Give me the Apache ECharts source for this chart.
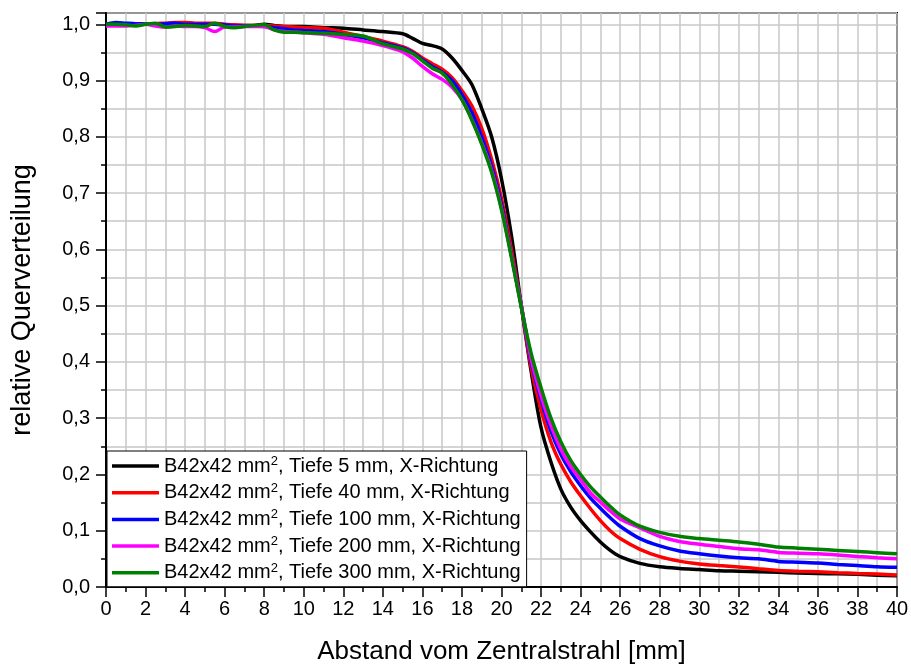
<!DOCTYPE html>
<html>
<head>
<meta charset="utf-8">
<script src="https://cdn.jsdelivr.net/npm/echarts@6/dist/echarts.min.js"></script>
<style>
html,body{margin:0;padding:0;background:#fff;}
#chart{width:911px;height:666px;}
</style>
</head>
<body>
<div id="chart"></div>
<script>
// Abstand vom Zentralstrahl [mm]
const xVals = [0,0.5,1,1.5,2,2.5,3,3.5,4,4.5,5,5.5,6,6.5,7,7.5,8,8.5,9,9.5,10,
  11,12,13,14,15,15.5,16,16.5,17,17.5,18,18.5,19,19.5,20,20.5,21,21.5,22,22.5,23,23.5,24,24.5,25,25.5,26,
  27,28,29,30,31,32,33,34,35,36,37,38,39,40];

const depths = [5, 40, 100, 200, 300];
const colors = ['#000000', '#ff0000', '#0000ff', '#ff00ff', '#008000'];

const yTiefe5 = [1.0,1.001,1.0,1.0,1.001,1.001,1.0,1.0,1.0,1.0,1.0,1.0,0.999,0.998,0.998,0.998,1.0,0.998,0.996,0.996,0.996,
  0.994,0.993,0.990,0.987,0.983,0.975,0.966,0.962,0.956,0.940,0.918,0.893,0.850,0.800,0.725,0.625,0.500,0.383,0.283,0.222,0.174,0.142,0.118,0.098,0.080,0.065,0.054,
  0.042,0.036,0.033,0.031,0.029,0.028,0.027,0.026,0.025,0.024,0.0235,0.0225,0.021,0.020];
const yTiefe40 = [1.0,1.0,1.0,1.0,1.001,1.001,1.002,1.003,1.003,1.002,1.002,1.002,1.0,0.999,0.998,0.998,0.998,0.997,0.996,0.995,0.994,
  0.993,0.986,0.978,0.970,0.960,0.952,0.940,0.930,0.920,0.905,0.882,0.855,0.815,0.760,0.690,0.600,0.500,0.390,0.315,0.258,0.218,0.187,0.162,0.139,0.118,0.100,0.086,
  0.067,0.054,0.046,0.041,0.038,0.0355,0.0325,0.0295,0.028,0.027,0.0255,0.0242,0.023,0.0213];
const yTiefe100 = [1.0,1.003,1.002,1.001,1.001,1.0,1.001,1.002,1.0,1.0,1.0,1.0,0.999,0.997,0.997,0.997,0.996,0.994,0.992,0.990,0.989,
  0.987,0.982,0.976,0.967,0.958,0.950,0.937,0.925,0.915,0.900,0.875,0.843,0.800,0.748,0.680,0.590,0.500,0.400,0.333,0.277,0.236,0.205,0.180,0.158,0.140,0.123,0.108,
  0.086,0.073,0.064,0.059,0.055,0.052,0.050,0.0455,0.044,0.0426,0.040,0.038,0.036,0.035];
const yTiefe200 = [0.997,0.997,0.997,0.998,1.0,0.997,0.995,0.997,0.996,0.996,0.994,0.987,0.995,0.995,0.996,0.996,0.996,0.990,0.987,0.986,0.985,
  0.982,0.976,0.970,0.962,0.951,0.940,0.925,0.912,0.902,0.888,0.866,0.831,0.789,0.740,0.673,0.588,0.500,0.405,0.340,0.287,0.245,0.214,0.191,0.167,0.151,0.135,0.121,
  0.105,0.090,0.081,0.076,0.072,0.068,0.066,0.0615,0.060,0.059,0.057,0.0544,0.052,0.050];
const yTiefe300 = [1.0,1.0,0.999,0.997,1.0,1.002,0.995,0.996,0.998,0.997,0.996,1.002,0.996,0.994,0.996,0.998,0.999,0.990,0.986,0.986,0.985,
  0.984,0.982,0.979,0.965,0.956,0.948,0.935,0.922,0.913,0.893,0.866,0.830,0.787,0.737,0.670,0.586,0.497,0.415,0.354,0.300,0.258,0.225,0.200,0.178,0.160,0.143,0.128,
  0.108,0.097,0.090,0.086,0.083,0.080,0.076,0.071,0.069,0.067,0.065,0.063,0.061,0.059];

const yData = [yTiefe5, yTiefe40, yTiefe100, yTiefe200, yTiefe300];
const names = depths.map(d => 'B42x42 mm², Tiefe ' + d + ' mm, X-Richtung');

const FONT = 'Liberation Sans, Arial, sans-serif';
const gridColor = '#c8c8c8';

const chart = echarts.init(document.getElementById('chart'), null, {renderer: 'canvas'});
chart.setOption({
  animation: false,
  backgroundColor: '#ffffff',
  textStyle: {fontFamily: FONT},
  grid: {left: 106, right: 14, top: 13, bottom: 79, show: true, borderColor: '#000', borderWidth: 2,
    backgroundColor: 'transparent', containLabel: false, outerBoundsMode: 'none'},
  legend: {
    orient: 'vertical', left: 107, top: 451,
    icon: 'rect',
    itemWidth: 47, itemHeight: 3.5, itemGap: 4.7,
    padding: [4, 6, 3, 5],
    backgroundColor: '#ffffff', borderColor: '#000', borderWidth: 1,
    data: names,
    formatter: n => n.replace('²', '{sup|2}'),
    textStyle: {
      fontFamily: FONT, fontSize: 20, color: '#000', lineHeight: 22,
      rich: {sup: {fontFamily: FONT, fontSize: 13, lineHeight: 13, verticalAlign: 'top', color: '#000'}}
    }
  },
  xAxis: {
    type: 'value', min: 0, max: 40, interval: 2,
    name: 'Abstand vom Zentralstrahl [mm]', nameLocation: 'middle', nameGap: 52,
    nameTextStyle: {fontFamily: FONT, fontSize: 26, color: '#000'},
    axisLine: {show: true, onZero: false, lineStyle: {color: '#000', width: 2}},
    axisTick: {show: true, inside: false, length: 10, lineStyle: {color: '#000', width: 1.5}},
    minorTick: {show: true, splitNumber: 2, length: 5, lineStyle: {color: '#000', width: 1.5}},
    axisLabel: {fontFamily: FONT, fontSize: 20, color: '#000', margin: 12},
    splitLine: {show: true, lineStyle: {color: gridColor, width: 1.5}},
    minorSplitLine: {show: true, lineStyle: {color: gridColor, width: 1.5}}
  },
  yAxis: {
    type: 'value', min: 0, max: 1.02, interval: 0.1,
    name: 'relative Querverteilung', nameLocation: 'middle', nameGap: 70, nameRotate: 90,
    nameTextStyle: {fontFamily: FONT, fontSize: 27, color: '#000'},
    axisLine: {show: true, onZero: false, lineStyle: {color: '#000', width: 2}},
    axisTick: {show: true, inside: false, length: 10, lineStyle: {color: '#000', width: 1.5}},
    minorTick: {show: true, splitNumber: 2, length: 5, lineStyle: {color: '#000', width: 1.5}},
    axisLabel: {
      fontFamily: FONT, fontSize: 20, color: '#000', margin: 16, showMaxLabel: false,
      formatter: v => (Math.abs(v * 10 - Math.round(v * 10)) < 1e-6) ? v.toFixed(1).replace('.', ',') : ''
    },
    splitLine: {show: true, lineStyle: {color: gridColor, width: 1.5}},
    minorSplitLine: {show: true, lineStyle: {color: gridColor, width: 1.5}}
  },
  series: yData.map((arr, k) => ({
    name: names[k], type: 'line', symbol: 'none', smooth: 0.3,
    z: 3 + k,
    lineStyle: {color: colors[k], width: 3.5},
    itemStyle: {color: colors[k]},
    data: xVals.map((x, i) => [x, arr[i]])
  }))
});
</script>
</body>
</html>
